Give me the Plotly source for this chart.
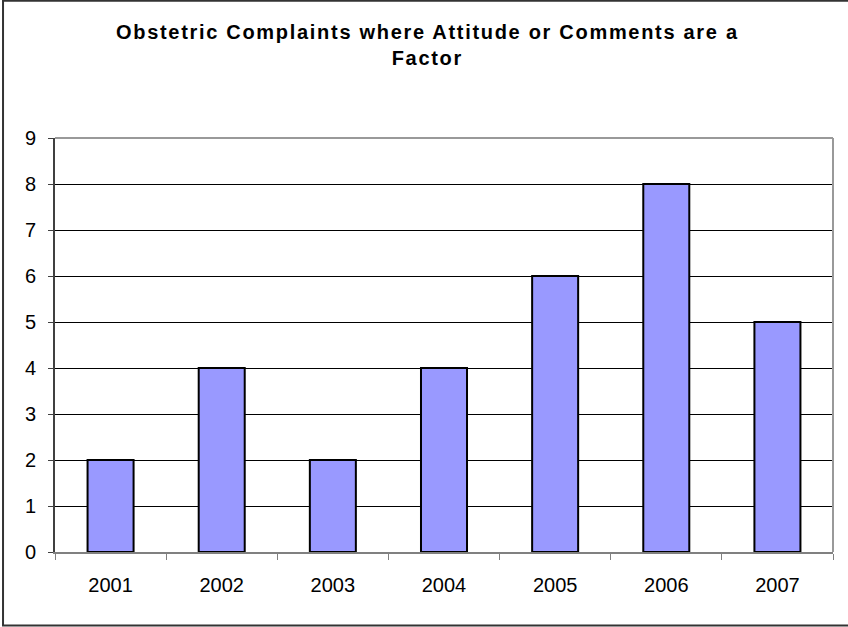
import plotly.graph_objects as go

# Complaint counts by year
years = ["2001", "2002", "2003", "2004", "2005", "2006", "2007"]
complaints = [2, 4, 2, 4, 6, 8, 5]
y_ticks = [0, 1, 2, 3, 4, 5, 6, 7, 8, 9]

title_text = "Obstetric Complaints where Attitude or Comments are a<br>Factor"

fig = go.Figure(
    go.Bar(
        x=years,
        y=complaints,
        marker=dict(color="#9999FF", line=dict(color="#000000", width=2)),
        width=0.414,
    )
)

fig.update_layout(
    width=848,
    height=627,
    paper_bgcolor="white",
    plot_bgcolor="white",
    margin=dict(l=55, r=15, t=138, b=75),
    showlegend=False,
    font=dict(family="Liberation Sans, Arial, sans-serif", color="#000000"),
    annotations=[
        dict(
            text="<b>" + title_text + "</b>",
            xref="paper", yref="paper",
            x=(428 - 55) / 778, y=1,
            xanchor="center", yanchor="bottom",
            yshift=67,
            showarrow=False,
            font=dict(size=20, color="#000000"),
        )
    ],
    shapes=[
        # outer chart frame (right edge runs past the page)
        dict(type="rect", xref="paper", yref="paper",
             x0=-0.0668, x1=1.04, y0=-0.1775, y1=1.3315,
             line=dict(color="#333333", width=2), fillcolor="rgba(0,0,0,0)", layer="below"),
        # plot area frame (top and right edges)
        dict(type="line", xref="paper", yref="paper", x0=0, x1=1, y0=1, y1=1,
             line=dict(color="#999999", width=2)),
        dict(type="line", xref="paper", yref="paper", x0=1, x1=1, y0=0, y1=1,
             line=dict(color="#999999", width=2)),
    ],
)

fig.update_xaxes(
    type="category",
    showgrid=False,
    showline=True,
    linecolor="#808080",
    linewidth=2,
    ticks="outside",
    tickson="boundaries",
    ticklen=6,
    tickcolor="#808080",
    tickwidth=1,
    ticklabelstandoff=14,
    tickfont=dict(size=20, color="#000000"),
)

fig.update_yaxes(
    range=[0, 9],
    tickvals=y_ticks,
    showgrid=True,
    gridcolor="#000000",
    gridwidth=1,
    zeroline=False,
    showline=True,
    linecolor="#404040",
    linewidth=2,
    ticks="outside",
    ticklen=5,
    tickcolor="#404040",
    tickwidth=1,
    ticklabelstandoff=8,
    tickfont=dict(size=20, color="#000000"),
)

# widen the title's letter spacing once the figure is drawn
spacing_js = """
var gd = document.getElementById('{plot_id}');
function spreadTitle() {
    gd.querySelectorAll('.annotation-text').forEach(function (el) {
        el.style.letterSpacing = '1.7px';
    });
}
spreadTitle();
gd.on('plotly_afterplot', spreadTitle);
"""

fig.write_html("out.html", post_script=spacing_js)
